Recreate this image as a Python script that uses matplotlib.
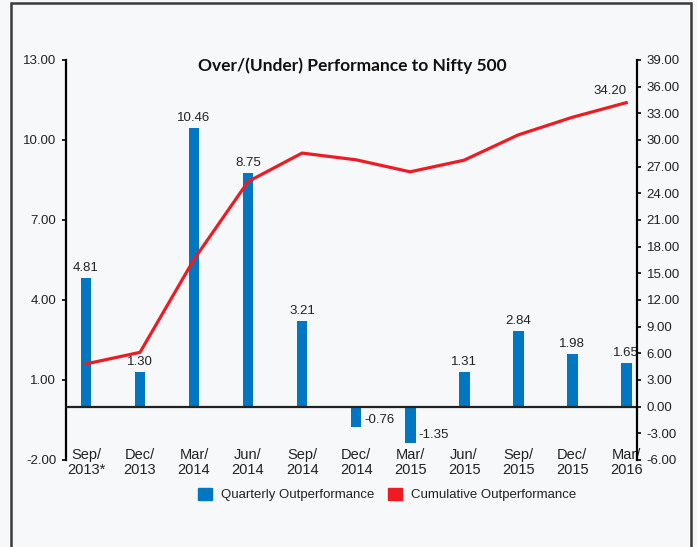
import matplotlib
matplotlib.use("Agg")
import matplotlib.pyplot as plt
from matplotlib.patches import Patch, Rectangle

plt.rcParams["font.family"] = ["Liberation Sans", "DejaVu Sans"]

QUARTERS = ["Sep/\n2013*", "Dec/\n2013", "Mar/\n2014", "Jun/\n2014", "Sep/\n2014",
            "Dec/\n2014", "Mar/\n2015", "Jun/\n2015", "Sep/\n2015", "Dec/\n2015", "Mar/\n2016"]
QUARTERLY = [4.81, 1.30, 10.46, 8.75, 3.21, -0.76, -1.35, 1.31, 2.84, 1.98, 1.65]
CUMULATIVE = [4.81, 6.11, 16.57, 25.32, 28.53, 27.77, 26.42, 27.73, 30.57, 32.55, 34.20]
LEFT_TICKS = [-2, 1, 4, 7, 10, 13]
RIGHT_TICKS = [-6, -3, 0, 3, 6, 9, 12, 15, 18, 21, 24, 27, 30, 33, 36, 39]

BLUE = "#0077c0"
RED = "#ed1c24"
BG = "#f7f8fa"
TXT = "#222222"

W, H = 697, 547
fig = plt.figure(figsize=(W / 100, H / 100), dpi=100, facecolor=BG)
ax = fig.add_axes([66 / W, 1 - 460 / H, 571 / W, 400 / H])
ax.set_facecolor(BG)
ax2 = ax.twinx()

xs = list(range(len(QUARTERS)))
ax.bar(xs, QUARTERLY, width=0.2, color=BLUE, zorder=2)
ax.axhline(0, color="#222222", lw=1.6, zorder=3)

for x, v in zip(xs, QUARTERLY):
    if v >= 0:
        ax.annotate(f"{v:.2f}", (x, v), xytext=(0, 3), textcoords="offset points",
                    ha="center", va="bottom", fontsize=9.5, color=TXT)
    else:
        ax.annotate(f"{v:.2f}", (x + 0.1, v), xytext=(2, 1), textcoords="offset points",
                    ha="left", va="bottom", fontsize=9.5, color=TXT)

ax2.plot(xs, CUMULATIVE, color=RED, lw=2.3, zorder=4)
ax2.annotate(f"{CUMULATIVE[-1]:.2f}", (xs[-1], CUMULATIVE[-1]), xytext=(0, 4),
             textcoords="offset points", ha="right", va="bottom", fontsize=9.5, color=TXT)

ax.set_xlim(-0.37, 10.2)
ax.set_ylim(-2, 13)
ax2.set_ylim(-6, 39)
ax.set_yticks(LEFT_TICKS)
ax.set_yticklabels([f"{t:.2f}" for t in LEFT_TICKS])
ax2.set_yticks(RIGHT_TICKS)
ax2.set_yticklabels([f"{t:.2f}" for t in RIGHT_TICKS])

ax.set_xticks(xs)
ax.set_xticklabels(QUARTERS, fontsize=10.5, color=TXT, linespacing=1.05)
ax.tick_params(axis="x", length=0, pad=-8.5)
ax.tick_params(axis="y", length=3, width=1.2, labelsize=9.5, labelcolor=TXT, pad=4)
ax2.tick_params(axis="y", length=3, width=1.2, labelsize=9.5, labelcolor=TXT, pad=4)

for a in (ax, ax2):
    for s in ("top", "bottom"):
        a.spines[s].set_visible(False)
    a.spines["left"].set_linewidth(1.6)
    a.spines["right"].set_linewidth(1.6)
ax.spines["right"].set_visible(False)
ax2.spines["left"].set_visible(False)

fig.text(352 / W, 1 - 66 / H, "Over/(Under) Performance to Nifty 500",
         ha="center", va="center", fontsize=12.5, fontweight="bold",
         family=["Lato", "DejaVu Sans"], color="#111111")

handles = [Patch(color=BLUE, label="Quarterly Outperformance"),
           Patch(color=RED, label="Cumulative Outperformance")]
fig.legend(handles=handles, loc="center", bbox_to_anchor=(387 / W, 1 - 494.5 / H),
           ncol=2, frameon=False, fontsize=9.5, handlelength=1.05, handleheight=1.05,
           handletextpad=0.7, columnspacing=1.0, labelcolor=TXT)

fig.patches.append(Rectangle((11 / W, -0.05), 680 / W, 1.05 - 3 / H,
                             transform=fig.transFigure, fill=False,
                             edgecolor="#3a3a3a", lw=1.8))

fig.savefig("out.png", dpi=100, facecolor=BG)
